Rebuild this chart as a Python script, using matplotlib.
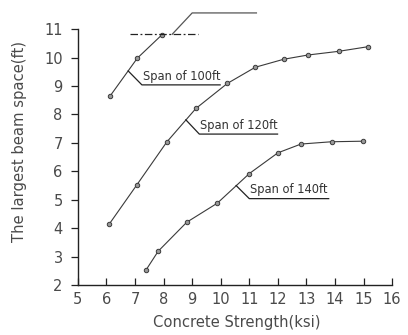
import matplotlib
matplotlib.use('Agg')
import matplotlib.pyplot as plt

# values
x_100 = [6.12, 7.08, 7.94]
y_100 = [8.64, 9.98, 10.80]

x_120 = [6.10, 7.06, 8.11, 9.13, 10.23, 11.21, 12.20, 13.05, 14.13, 15.14]
y_120 = [4.15, 5.52, 7.03, 8.21, 9.09, 9.66, 9.94, 10.09, 10.22, 10.38]

x_140 = [7.39, 7.81, 8.81, 9.88, 11.00, 12.00, 12.81, 13.88, 14.99]
y_140 = [2.54, 3.19, 4.21, 4.88, 5.92, 6.65, 6.96, 7.04, 7.06]

x_ticks = list(range(5, 17))
y_ticks = list(range(2, 12))
labels = ["Span of 100ft", "Span of 120ft", "Span of 140ft"]

line_col = '#3a3a3a'
text_col = '#4a4a4a'

fig = plt.figure(figsize=(4.08, 3.35), dpi=100)
ax = fig.add_axes([0.191, 0.149, 0.770, 0.764])

for xs, ys in [(x_100, y_100), (x_120, y_120), (x_140, y_140)]:
    ax.plot(xs, ys, '-', color=line_col, lw=0.8, marker='o', markersize=3.2,
            markerfacecolor='#999999', markeredgecolor=line_col, markeredgewidth=0.7)

# dash-dot limit line
ax.plot([6.82, 9.21], [10.82, 10.82], color='#222222', lw=0.9, dashes=[6, 2, 1.5, 2])

# leader line going above the axes (label cut off in original)
ax.plot([8.30, 9.0, 11.25], [10.82, 11.57, 11.57], color='#555555', lw=0.9, clip_on=False)

# label leaders: (start on curve, elbow, end)
leaders = [
    ((6.76, 9.53), (7.24, 9.04), (9.98, 9.04)),
    ((8.78, 7.81), (9.25, 7.31), (11.99, 7.31)),
    ((10.54, 5.50), (11.0, 5.04), (13.78, 5.04)),
]
for lab, (p0, p1, p2) in zip(labels, leaders):
    ax.plot([p0[0], p1[0], p2[0]], [p0[1], p1[1], p2[1]], color='#222222', lw=0.9)
    ax.text(p1[0] + 0.03, p1[1] + 0.08, lab, fontsize=8.3, color='#333333',
            ha='left', va='bottom')

ax.set_xlim(5, 16)
ax.set_ylim(2, 11)
ax.set_xticks(x_ticks)
ax.set_yticks(y_ticks)
ax.spines['top'].set_visible(False)
ax.spines['right'].set_visible(False)
for s in ['left', 'bottom']:
    ax.spines[s].set_color('#222222')
    ax.spines[s].set_linewidth(1.0)
ax.tick_params(axis='x', direction='in', length=5, width=0.9, pad=5,
               labelsize=10.5, labelcolor=text_col, color='#222222')
ax.tick_params(axis='y', direction='out', length=5, width=0.9, pad=6,
               labelsize=10.5, labelcolor=text_col, color='#222222')

ax.set_xlabel("Concrete Strength(ksi)", fontsize=10.6, color=text_col, va='center')
ax.set_ylabel("The largest beam space(ft)", fontsize=10.6, color=text_col, va='center')
ax.xaxis.set_label_coords(0.505, -0.148)
ax.yaxis.set_label_coords(-0.185, 0.5625)

fig.savefig('out.png', dpi=100)
